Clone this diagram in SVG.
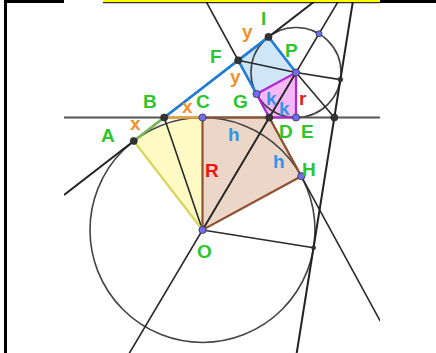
<svg xmlns="http://www.w3.org/2000/svg" width="436" height="353" viewBox="0 0 436 353">
<style>
.ln{stroke:#2a2a2a;stroke-width:1.6;fill:none;stroke-linecap:round}
.thk{stroke:#222;stroke-width:2;fill:none}
.circ{stroke:#444;stroke-width:1.6;fill:none}
.blue{stroke:#1f7fd6;stroke-width:2.6;fill:none;stroke-linecap:round}
.pur{stroke:#b025d8;stroke-width:2.2;fill:none}
.brn{stroke:#8f5230;stroke-width:2.2;fill:none}
.dk{fill:#333;stroke:#222;stroke-width:0.6}
.bl{fill:#6f6cf6;stroke:#333;stroke-width:0.8}
text{font-family:"Liberation Sans",Arial,sans-serif;font-size:19px;font-weight:bold}
.g{fill:#2cc62c}
.o{fill:#f0902a}
.b{fill:#2f95e8}
.r{fill:#ee1515}
</style>
<defs>
<clipPath id="clip"><rect x="64" y="0" width="316" height="353"/></clipPath>
</defs>
<rect width="436" height="353" fill="#fff"/>
<g id="figure" clip-path="url(#clip)">
<g id="fills">
<path d="M202.5,230 L133.75,141 A112.5,112.5 0 0 1 202.5,117.5 Z" fill="#fffac4" stroke="none"/>
<polygon points="202.5,117.5 269.3,117.5 301.3,176.2 202.5,230" fill="#ecd6c8"/>
<polygon points="238.2,60.3 268.5,36.9 296,72.5 256.5,94" fill="#cfe6f8"/>
<polygon points="256.5,94 269.3,117.5 296,117.5 296,72.5" fill="#f8b8f8"/>
</g>
<g id="circles">
<circle class="circ" cx="202.5" cy="230" r="112.5"/>
<circle class="circ" cx="296" cy="72.5" r="45"/>
</g>
<g id="connectors">
<line x1="60" y1="117.5" x2="384" y2="117.5" stroke="#555" stroke-width="1.8"/>
<line class="thk" x1="64" y1="194.9" x2="316.3" y2="0"/>
<line class="ln" x1="205.3" y1="0" x2="380" y2="320.7"/>
<line class="thk" x1="353.1" y1="0" x2="296.7" y2="353"/>
<line class="ln" x1="339" y1="0" x2="129.5" y2="353"/>
<line class="ln" x1="202.5" y1="230" x2="164.2" y2="117.5"/>
<line class="ln" x1="202.5" y1="230" x2="313.6" y2="247.7"/>
<line class="ln" x1="238.2" y1="60.3" x2="296" y2="72.5"/>
<line class="ln" x1="296" y1="72.5" x2="340.4" y2="79.6"/>
<line class="ln" x1="296" y1="72.5" x2="334.3" y2="117.5"/>
<line x1="202.5" y1="230" x2="133.75" y2="141" stroke="#d6d65c" stroke-width="2.2"/>
<line x1="133.75" y1="141" x2="164.2" y2="117.5" stroke="#78b858" stroke-width="2.6"/>
<line x1="164.2" y1="117.5" x2="202.5" y2="117.5" stroke="#e8a23c" stroke-width="2.6"/>
<polygon class="brn" points="202.5,117.5 269.3,117.5 301.3,176.2 202.5,230"/>
<line class="ln" x1="202.5" y1="230" x2="296" y2="72.5"/>
<polygon class="pur" points="256.5,94 269.3,117.5 296,117.5 296,72.5"/>
<polyline class="blue" points="164.2,117.5 268.5,36.9 296,72.5"/>
<line class="blue" x1="238.2" y1="60.3" x2="256.5" y2="94"/>
</g>
</g>
<g id="points">
<circle class="dk" cx="133.75" cy="141" r="3.6"/>
<circle class="dk" cx="164.2" cy="117.5" r="3.6"/>
<circle class="dk" cx="238.2" cy="60.3" r="3.6"/>
<circle class="dk" cx="268.5" cy="36.9" r="3.6"/>
<circle class="dk" cx="269.3" cy="117.5" r="3.6"/>
<circle class="dk" cx="334.3" cy="117.5" r="3.6"/>
<circle class="dk" cx="340.4" cy="79.6" r="2.4"/>
<circle class="dk" cx="313.6" cy="247.7" r="2"/>
<circle class="bl" cx="202.5" cy="117.5" r="3.6"/>
<circle class="bl" cx="202.5" cy="230" r="3.6"/>
<circle class="bl" cx="296" cy="72.5" r="3.6"/>
<circle class="bl" cx="296" cy="117.5" r="3.6"/>
<circle class="bl" cx="256.5" cy="94" r="3.6"/>
<circle class="bl" cx="301.3" cy="176.2" r="3.6"/>
<circle class="bl" cx="319" cy="33.8" r="3"/>
</g>
<g id="labels">
<text class="g" x="261" y="25">I</text>
<text class="g" x="210" y="63">F</text>
<text class="g" x="285" y="57">P</text>
<text class="g" x="143" y="108">B</text>
<text class="g" x="196" y="108">C</text>
<text class="g" x="233" y="108">G</text>
<text class="g" x="101" y="142">A</text>
<text class="g" x="279" y="138">D</text>
<text class="g" x="301" y="138">E</text>
<text class="g" x="302" y="176">H</text>
<text class="g" x="197" y="258">O</text>
<text class="r" x="205" y="177">R</text>
<text class="r" x="299" y="105">r</text>
<text class="b" x="228" y="141">h</text>
<text class="b" x="273" y="168">h</text>
<text class="b" x="266" y="105">k</text>
<text class="b" x="279" y="115">k</text>
<text class="o" x="130" y="130">x</text>
<text class="o" x="182" y="113">x</text>
<text class="o" x="242" y="38">y</text>
<text class="o" x="230" y="83">y</text>
</g>
<g id="frame">
<rect x="4" y="0" width="3" height="353" fill="#000"/>
<rect x="4" y="0" width="60" height="3" fill="#000"/>
<rect x="103" y="0" width="277" height="2.2" fill="#ffff00"/>
<rect x="103" y="2.2" width="277" height="1" fill="#000"/>
<rect x="380" y="0" width="56" height="3" fill="#000"/>
</g>
</svg>
